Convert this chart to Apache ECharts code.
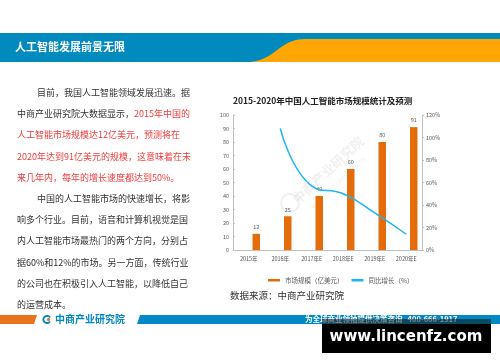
<!DOCTYPE html>
<html><head><meta charset="utf-8">
<script src="https://cdn.jsdelivr.net/npm/echarts@6/dist/echarts.min.js"></script>
<style>html,body{margin:0;padding:0;background:#fff}#c{width:500px;height:362px}</style>
</head><body><div id="c"></div>
<script>
const categories = ['2015年','2016年','2017年E','2018年E','2019年E','2020年E'];
const marketSize = [12, 25, 40, 60, 80, 91];
const growthRate = ['-', 108, 57, 50, 33, 14];
const leftTicks = {min:0, max:100, interval:10};
const rightTicks = {min:0, max:120, interval:20};

const FONT = '"Noto Sans CJK SC","Noto Sans",sans-serif';
const chart = echarts.init(document.getElementById('c'), null, {renderer:'canvas'});

// S-curve of the orange banner shape
function bez(p0,p1,p2,p3,t){const u=1-t;return u*u*u*p0+3*u*u*t*p1+3*u*t*t*p2+t*t*t*p3;}
const orangePts = [];
for (let i=0;i<=20;i++){const t=i/20;orangePts.push([bez(250,275,280,305,t), bez(62,60,39,39,t)]);}
orangePts.push([500,39],[500,62]);

const bodyLines = [
  {x:37, t:'目前，我国人工智能领域发展迅速。据'},
  {x:17, t:'中商产业研究院大数据显示，{r|2015年中国的}'},
  {x:17, t:'{r|人工智能市场规模达12亿美元，预测将在}'},
  {x:17, t:'{r|2020年达到91亿美元的规模，这意味着在未}'},
  {x:17, t:'{r|来几年内，每年的增长速度都达到50%。}'},
  {x:37, t:'中国的人工智能市场的快速增长，将影'},
  {x:17, t:'响多个行业。目前，语音和计算机视觉是国'},
  {x:17, t:'内人工智能市场最热门的两个方向，分别占'},
  {x:17, t:'据60%和12%的市场。另一方面，传统行业'},
  {x:17, t:'的公司也在积极引入人工智能，以降低自己'},
  {x:17, t:'的运营成本。'}
];
const wm = 'rgba(180,180,180,0.22)';
const graphics = [
  {type:'rect', shape:{x:0,y:33,width:500,height:29}, style:{fill:'#008abe'}, z:0},
  {type:'polygon', shape:{points:orangePts}, style:{fill:'#ffa602'}, z:1},
  {type:'text', x:15, y:47, style:{text:'人工智能发展前景无限', fill:'#fff', font:'bold 11px '+FONT, textVerticalAlign:'middle'}, z:2},
  {type:'polygon', shape:{points:[[0,315],[37,315],[34,324],[0,324]]}, style:{fill:'#e8731c'}, z:1},
  {type:'polygon', shape:{points:[[140,315],[500,315],[500,324],[137,324]]}, style:{fill:'#0089c4'}, z:1},
  {type:'arc', shape:{cx:47,cy:319.5,r:3.6,startAngle:0.6,endAngle:-0.6+Math.PI*2,clockwise:true}, style:{stroke:'#0089c4',lineWidth:2,fill:null}, z:2},
  {type:'circle', shape:{cx:48.5,cy:319.5,r:1.6}, style:{fill:'#e8731c'}, z:2},
  {type:'text', x:55, y:319.5, style:{text:'中商产业研究院', fill:'#0089c4', font:'bold 10px '+FONT, textVerticalAlign:'middle'}, z:2},
  {type:'text', x:305, y:319.5, style:{text:'为全球商业领袖提供决策咨询   400-666-1917', fill:'#fff', font:'bold 7.5px '+FONT, textVerticalAlign:'middle'}, z:2},
  {type:'rect', shape:{x:322,y:319,width:169,height:5}, style:{fill:'rgba(20,20,20,0.55)'}, z:3},
  {type:'rect', shape:{x:322,y:324,width:169,height:29}, style:{fill:'#000'}, z:3},
  {type:'text', x:406, y:337, style:{text:'www.lincenfz.com', fill:'#fff', font:'bold 15px "DejaVu Sans",sans-serif', textAlign:'center', textVerticalAlign:'middle'}, z:4},
  {type:'text', x:230, y:295, style:{text:'数据来源：中商产业研究院', fill:'#333', font:'9.5px '+FONT, textVerticalAlign:'middle'}, z:2},
  {type:'circle', shape:{cx:290,cy:203,r:9}, style:{stroke:wm,lineWidth:2,fill:null}, z:0},
  {type:'text', x:328, y:170, rotation:0.75, style:{text:'中商产业研究院', fill:wm, font:'bold 13px '+FONT, textAlign:'center', textVerticalAlign:'middle'}, z:0},
  {type:'text', x:338, y:182, rotation:0.75, style:{text:'www.askci.com/reports/', fill:wm, font:'6.5px '+FONT, textAlign:'center', textVerticalAlign:'middle'}, z:0}
];
bodyLines.forEach((l,i)=>{
  graphics.push({type:'text', x:l.x, y:92.5+i*21.2, z:2, style:{
    text:l.t, fill:'#333', font:'9px '+FONT, textVerticalAlign:'middle',
    rich:{r:{fill:'#f23a3a', font:'9px '+FONT}}
  }});
});

const axisLbl = {fontSize:5.5, color:'#595959', fontFamily:FONT};
chart.setOption({
  animation:false,
  title:{text:'2015-2020年中国人工智能市场规模统计及预测', left:228, top:92, textStyle:{fontSize:8.5, fontWeight:'bold', color:'#222', fontFamily:FONT}},
  graphic:graphics,
  legend:{data:['市场规模（亿美元）','同比增长（%）'], left:263, top:272, icon:'rect', itemWidth:12, itemHeight:2.5, itemGap:8,
    textStyle:{fontSize:6.5, color:'#595959', fontFamily:FONT}},
  grid:{left:233, right:78, top:115, bottom:112},
  xAxis:{type:'category', data:categories, boundaryGap:true,
    axisLine:{lineStyle:{color:'#bfbfbf'}}, axisTick:{length:3, lineStyle:{color:'#bfbfbf'}},
    axisLabel:Object.assign({margin:6, interval:0}, axisLbl)},
  yAxis:[
    {type:'value', min:leftTicks.min, max:leftTicks.max, interval:leftTicks.interval, splitLine:{show:false},
      axisLine:{show:true, lineStyle:{color:'#bfbfbf'}}, axisTick:{show:true, length:2, inside:true, lineStyle:{color:'#bfbfbf'}},
      axisLabel:Object.assign({margin:4}, axisLbl)},
    {type:'value', min:rightTicks.min, max:rightTicks.max, interval:rightTicks.interval, splitLine:{show:false},
      axisLine:{show:true, lineStyle:{color:'#bfbfbf'}}, axisTick:{show:true, length:2, lineStyle:{color:'#bfbfbf'}},
      axisLabel:Object.assign({margin:4, formatter:'{value}%'}, axisLbl)}
  ],
  series:[
    {name:'_', type:'bar', data:categories.map(()=>'-'), barWidth:7.5, barGap:'100%'},
    {name:'市场规模（亿美元）', type:'bar', data:marketSize, barWidth:7.5, barGap:'100%', itemStyle:{color:'#e46c0a'},
      label:{show:true, position:'top', distance:4, fontSize:5.5, color:'#595959', fontFamily:FONT}},
    {name:'同比增长（%）', type:'line', yAxisIndex:1, data:growthRate, smooth:true, showSymbol:false,
      lineStyle:{color:'#1fb5ef', width:1.5}, itemStyle:{color:'#1fb5ef'}}
  ]
});
</script></body></html>
